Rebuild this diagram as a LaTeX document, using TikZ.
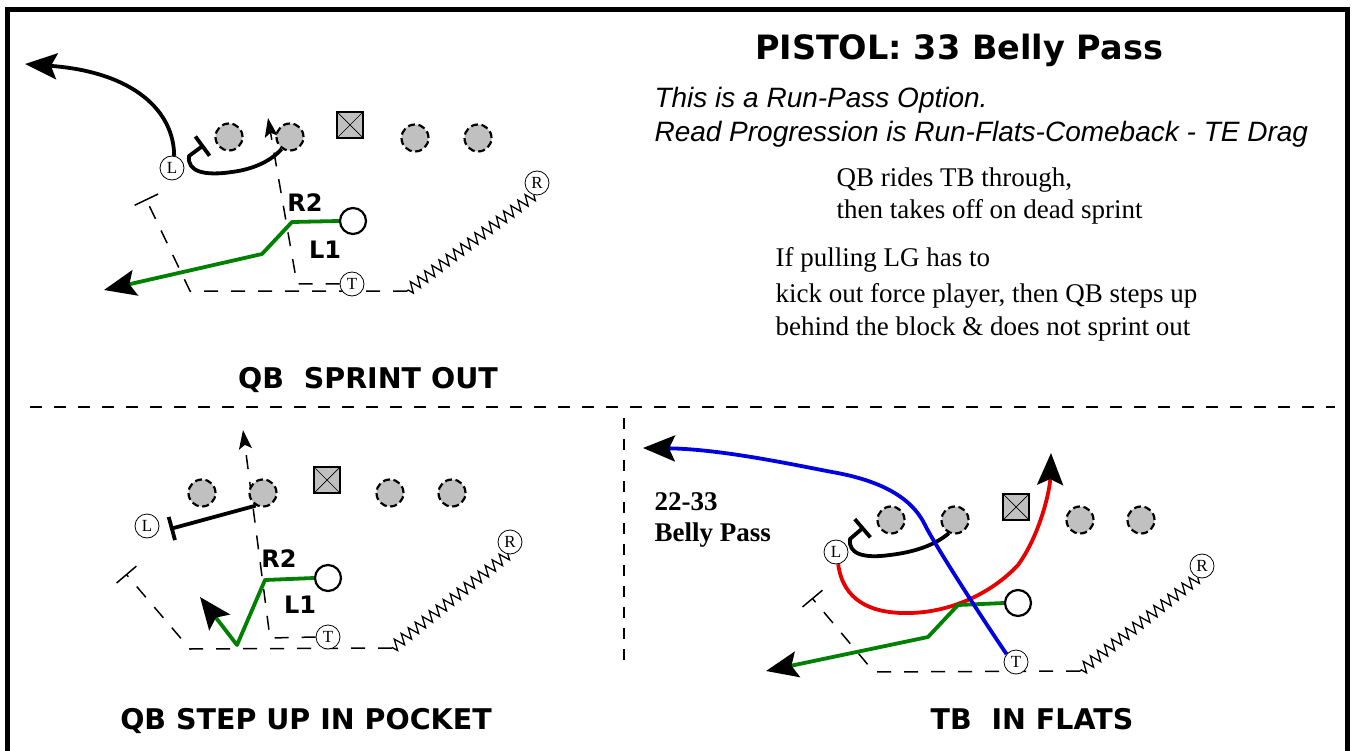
\documentclass[tikz,border=0pt]{standalone}
\usepackage{fontspec}
\setmainfont{Liberation Serif}
\setsansfont{Liberation Sans}
\newfontfamily\heavysans{DejaVu Sans}
\usetikzlibrary{arrows.meta,decorations.pathmorphing,backgrounds}
\definecolor{linegray}{RGB}{192,192,192}
\definecolor{routegreen}{RGB}{0,128,0}
\definecolor{routeblue}{RGB}{0,0,225}
\definecolor{routered}{RGB}{230,0,0}
\tikzset{
  olman/.style={circle, draw=black, fill=linegray, line width=2.2pt,
                dash pattern=on 7pt off 3.6pt, minimum size=27pt, inner sep=0pt},
  snapbox/.style={rectangle, draw=black, fill=linegray, line width=2.8pt,
                  minimum size=26pt, inner sep=0pt,
                  path picture={\draw[line width=0.7pt]
                    (path picture bounding box.south west) -- (path picture bounding box.north east)
                    (path picture bounding box.north west) -- (path picture bounding box.south east);}},
  player/.style={circle, draw=black, fill=white, line width=0.8pt,
                 minimum size=24pt, inner sep=0pt, font=\fontsize{17}{17}\selectfont},
  qback/.style={circle, draw=black, fill=white, line width=2.2pt,
                minimum size=26pt, inner sep=0pt},
  route/.style={line width=3.8pt, line join=round},
  rdash/.style={line width=1.5pt, dash pattern=on 14pt off 13pt},
  rzig/.style={line width=1.3pt, decorate,
               decoration={zigzag, segment length=9pt, amplitude=5.5pt}},
  lbl/.style={font=\heavysans\bfseries\fontsize{24}{24}\selectfont},
  playname/.style={anchor=base, font=\heavysans\bfseries\fontsize{28.5}{30}\selectfont},
  noteline/.style={anchor=base west, font=\sffamily\itshape\fontsize{28}{30}\selectfont},
  textline/.style={anchor=base west, font=\fontsize{27}{30}\selectfont},
}
\begin{document}
\begin{tikzpicture}[x=1pt, y=-1pt,
   bigtip/.style={-{Stealth[length=32pt, width=26pt, inset=6pt, color=black]}},
   smalltip/.style={-{Stealth[length=19pt, width=13pt, inset=4pt]}},
   blocktip/.style={-{Bar[width=24pt, line width=3.8pt]}},
   thinbar/.style={-{Bar[width=26pt, line width=1.5pt]}}]
  \useasboundingbox (0,0) rectangle (1354,751);
  \draw[line width=4.5pt] (7.5,751) -- (7.5,9.5) -- (1347.5,9.5) -- (1347.5,751);
  \draw[line width=1.4pt, dash pattern=on 12pt off 12pt] (30,407) -- (1335,407);
  \draw[line width=1.4pt, dash pattern=on 11pt off 10pt] (624,418) -- (624,668);

  \node[anchor=base, font=\heavysans\bfseries\fontsize{33.5}{36}\selectfont] (title) at (959,60) {PISTOL: 33 Belly Pass};
  \node[noteline] (note1) at (651,108) {This is a Run-Pass Option.};
  \node[noteline] (note2) at (651,142) {Read Progression is Run-Flats-Comeback - TE Drag};
  \node[textline] (ride1) at (833,187) {QB rides TB through,};
  \node[textline] (ride2) at (833,219) {then takes off on dead sprint};
  \node[textline] (pull1) at (772,267) {If pulling LG has to};
  \node[textline] (pull2) at (772,302) {kick out force player, then QB steps up};
  \node[textline] (pull3) at (772,335) {behind the block \& does not sprint out};
  \node[textline, font=\bfseries\fontsize{27}{30}\selectfont] (call1) at (651,510) {22-33};
  \node[textline, font=\bfseries\fontsize{27}{30}\selectfont] (call2) at (651,541) {Belly Pass};
  \node[playname] (sprint) at (368,388) {QB~~SPRINT OUT};
  \node[playname] (pocket) at (306,729) {QB STEP UP IN POCKET};
  \node[playname] (flats) at (1032,729) {TB~~IN FLATS};

  \node[olman] (tl1) at (229,137) {};
  \node[olman] (tl2) at (290,137) {};
  \node[snapbox] (tlc) at (350,125) {};
  \node[olman] (tl3) at (415,138) {};
  \node[olman] (tl4) at (478,138) {};
  \node[player] (tlL) at (172,168) {L};
  \node[player] (tlT) at (352,284) {T};
  \node[player] (tlR) at (537,183) {R};
  \node[qback] (tlQ) at (353,221) {};
  \node[lbl] (tlr2) at (305,203) {R2};
  \node[lbl] (tll1) at (325,250) {L1};
  \coordinate (tlout) at (25,64);
  \coordinate (tlhole) at (268,118);
  \coordinate (tlflat) at (104,290);
  \coordinate (tlzig) at (407,291);
  \coordinate (tlkick) at (146,199);
  \coordinate (tlseal) at (204,145);
  \begin{scope}[on background layer]
    \draw[rdash, smalltip] (tlT.west) -- (297,284) -- (tlhole);
    \draw[rzig] (tlR.-105) -- (tlzig);
    \draw[rdash, thinbar] (tlzig) -- (190,291) -- (tlkick);
  \end{scope}
  \draw[route, bigtip] (tlL.80) .. controls (174,112) and (135,72) .. (tlout);
  \draw[route, blocktip] (tl2.-125) .. controls (272,160) and (255,169) .. (232,172)
        .. controls (205,176) and (187,172) .. (189,156) -- (tlseal);
  \draw[route, routegreen, bigtip] (tlQ.west) -- (292,222) -- (262,254) -- (tlflat);

  \node[olman] (bl1) at (202,493) {};
  \node[olman] (bl2) at (263,493) {};
  \node[snapbox] (blc) at (327,480) {};
  \node[olman] (bl3) at (390,493) {};
  \node[olman] (bl4) at (452,493) {};
  \node[player] (blL) at (147,526) {L};
  \node[player] (blT) at (328,637) {T};
  \node[player] (blR) at (510,542) {R};
  \node[qback] (blQ) at (328,578) {};
  \node[lbl] (blr2) at (279,559) {R2};
  \node[lbl] (bll1) at (300,605) {L1};
  \coordinate (blseal) at (170,529);
  \coordinate (blhole) at (243,430);
  \coordinate (blstep) at (200,597);
  \coordinate (blzig) at (392,648);
  \coordinate (blkick) at (126,574);
  \begin{scope}[on background layer]
    \draw[rdash, smalltip] (blT.west) -- (270,638) -- (blhole);
    \draw[rzig] (blR.-100) -- (blzig);
    \draw[rdash, thinbar] (blzig) -- (190,649) -- (blkick);
  \end{scope}
  \draw[route, blocktip] (bl2.-120) -- (blseal);
  \draw[route, routegreen, bigtip] (blQ.west) -- (265,580) -- (237,645) -- (blstep);

  \node[olman] (br1) at (891,520) {};
  \node[olman] (br2) at (955,520) {};
  \node[snapbox] (brc) at (1016,507) {};
  \node[olman] (br3) at (1080,520) {};
  \node[olman] (br4) at (1141,520) {};
  \node[player] (brL) at (836,552) {L};
  \node[player] (brT) at (1016,662) {T};
  \node[player] (brR) at (1202,566) {R};
  \node[qback] (brQ) at (1018,603) {};
  \coordinate (brseal) at (864,527);
  \coordinate (brcurl) at (1051,453);
  \coordinate (brwide) at (643,448);
  \coordinate (brflat) at (766,671);
  \coordinate (brzig) at (1080,671);
  \coordinate (brkick) at (812,598);
  \begin{scope}[on background layer]
    \draw[rzig] (brR.-110) -- (brzig);
    \draw[rdash, thinbar] (brzig) -- (874,672) -- (brkick);
  \end{scope}
  \draw[route, routered, bigtip] (brL.-80) .. controls (843,600) and (870,614) .. (910,613)
        .. controls (955,612) and (995,590) .. (1018,565)
        .. controls (1040,535) and (1050,490) .. (brcurl);
  \draw[route, routegreen, bigtip] (brQ.west) -- (958,605) -- (928,637) -- (brflat);
  \draw[route, blocktip] (br2.-115) .. controls (935,545) and (915,552) .. (890,555)
        .. controls (862,559) and (848,553) .. (850,539) -- (brseal);
  \draw[route, routeblue, bigtip] (brT.140) .. controls (990,630) and (937,549) .. (925,525)
        .. controls (911,496) and (878,480) .. (832,472)
        .. controls (790,464) and (720,449) .. (brwide);
\end{tikzpicture}
\end{document}
